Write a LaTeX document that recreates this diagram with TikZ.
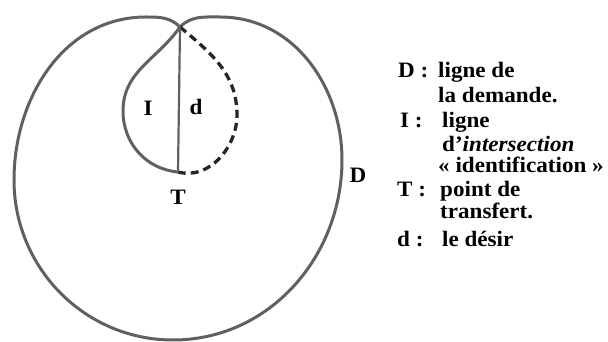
\documentclass[tikz,border=0pt]{standalone}
\usepackage{fontspec}
\setmainfont{Liberation Serif}[FakeStretch=1.05]
\usetikzlibrary{positioning,calc}

\begin{document}
\begin{tikzpicture}[
  x=1pt, y=1pt,
  trait/.style={draw=gray!75!black, line width=3pt},
  desir/.style={draw=black!85, line width=3.3pt, dash pattern=on 8pt off 5pt},
  lettre/.style={font=\fontsize{22}{26}\selectfont\bfseries, inner sep=0pt},
  legende/.style={lettre, anchor=base west}
]
  \useasboundingbox (0,0) rectangle (608,342);

  % --- Points ---
  \coordinate (cusp)    at (180,315);
  \coordinate (lobeD)   at (220,325);
  \coordinate (droite)  at (342,182);
  \coordinate (bas)     at (173,2);
  \coordinate (gauche)  at (14,162);
  \coordinate (lobeG)   at (146,325);
  \coordinate (boucleG) at (123,231);
  \coordinate (boucleD) at (237,227);
  \coordinate (T)       at (178,170);

  % --- Ligne de la demande ---
  \draw[trait] (cusp) to[out=45,in=180] (lobeD) to[out=0,in=90] (droite)
    to[out=-90,in=0] (bas) to[out=180,in=-90] (gauche)
    to[out=90,in=180] (lobeG) to[out=0,in=135] (cusp);

  % --- Identification / desir ---
  \draw[trait] (cusp) to[out=-125,in=90] (boucleG) to[out=-90,in=175] (T);
  \draw[desir] (cusp) to[out=-40,in=90] (boucleD) to[out=-90,in=-15] (T);
  \draw[trait, line width=2.2pt] (cusp) -- (T);

  % --- Lettres ---
  \node[lettre] (lI) at (148,234) {I};
  \node[lettre] (ld) at (196,235) {d};
  \node[lettre] (lT) at (178,145) {T};
  \node[lettre] (lD) at (358,167) {D};

  % --- Legende ---
  \node[legende] (cleD) at (398,264) {D :};
  \node[legende] (texD) at (438,264) {ligne de};
  \node[legende] (texD2) at (438,239) {la demande.};

  \node[legende] (cleI) at (400,214) {I :};
  \node[legende] (texI) at (442,214) {ligne};
  \node[legende] (texI2) at (442,190) {d’\textit{intersection}};
  \node[legende] (texI3) at (438,169) {«~identification~»};

  \node[legende] (cleT) at (397,145) {T :};
  \node[legende] (texT) at (440,145) {point de};
  \node[legende] (texT2) at (440,123) {transfert.};

  \node[legende] (cled) at (397,95) {d :};
  \node[legende] (texd) at (442,95) {le désir};
\end{tikzpicture}
\end{document}
